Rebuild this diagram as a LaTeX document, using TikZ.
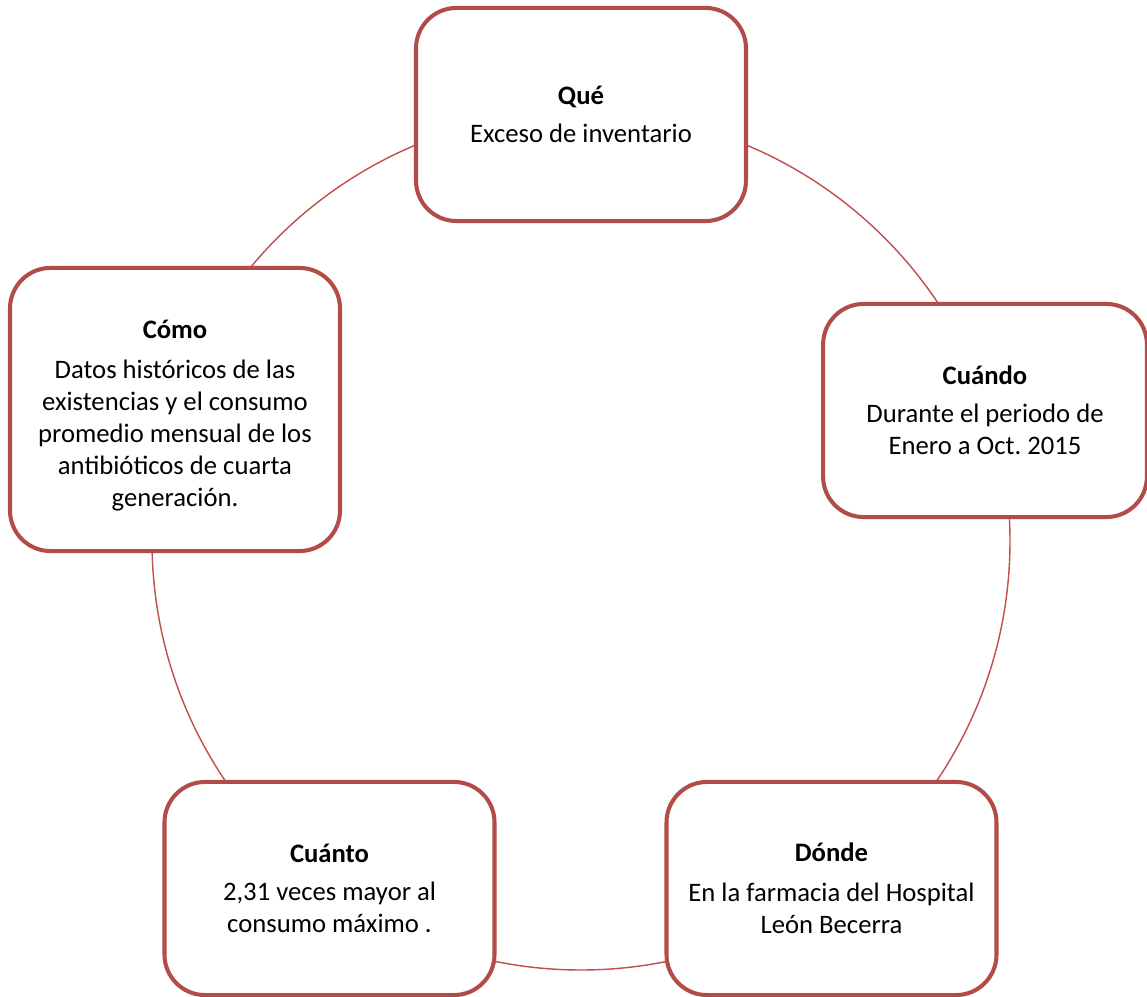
\documentclass[tikz,border=0pt]{standalone}
\usepackage{fontspec}
\setmainfont{Carlito}
\usetikzlibrary{positioning}
\definecolor{boxred}{HTML}{B24C48}
\definecolor{ringred}{HTML}{C0504D}
\tikzset{ring/.style={draw=ringred, line width=0.6pt},
  box/.style={draw=boxred, line width=1.7pt, fill=white, rounded corners=17pt,
    align=center, minimum width=138.6pt, minimum height=89.5pt,
    font=\fontsize{11.2pt}{13.4pt}\selectfont}}
\frenchspacing

\begin{document}
\begin{tikzpicture}[x=0.42pt, y=0.42pt]
  \useasboundingbox (0,0) rectangle (1147,996);
  \coordinate (c) at (581,455);
  % cycle behind the boxes
  \draw[ring] (c) circle[radius=429];
  % boxes
  \node[box] (que) at (581,881.5) {\textbf{Qué}\\[2.6pt]Exceso de inventario};
  \node[box, minimum width=136pt] (cuando) at (985,585.5) {\textbf{Cuándo}\\[2.6pt]Durante el periodo de\\Enero a Oct. 2015};
  \node[box] (donde) at (831.5,107.5) {\textbf{Dónde}\\[3.5pt]En la farmacia del Hospital\\León Becerra};
  \node[box] (cuanto) at (329.5,107.5) {\textbf{Cuánto}\\[2.6pt]2,31 veces mayor al\\consumo máximo .};
  \node[box, minimum height=118.9pt] (como) at (175,586.5) {};
  \node[align=center, font=\fontsize{11.2pt}{13.4pt}\selectfont, below=0pt of como.center, anchor=center, yshift=-2.5pt]
    (comotxt) {\textbf{Cómo}\\[3.4pt]Datos históricos de las\\existencias y el consumo\\promedio mensual de los\\antibióticos de cuarta\\generación.};
\end{tikzpicture}
\end{document}
